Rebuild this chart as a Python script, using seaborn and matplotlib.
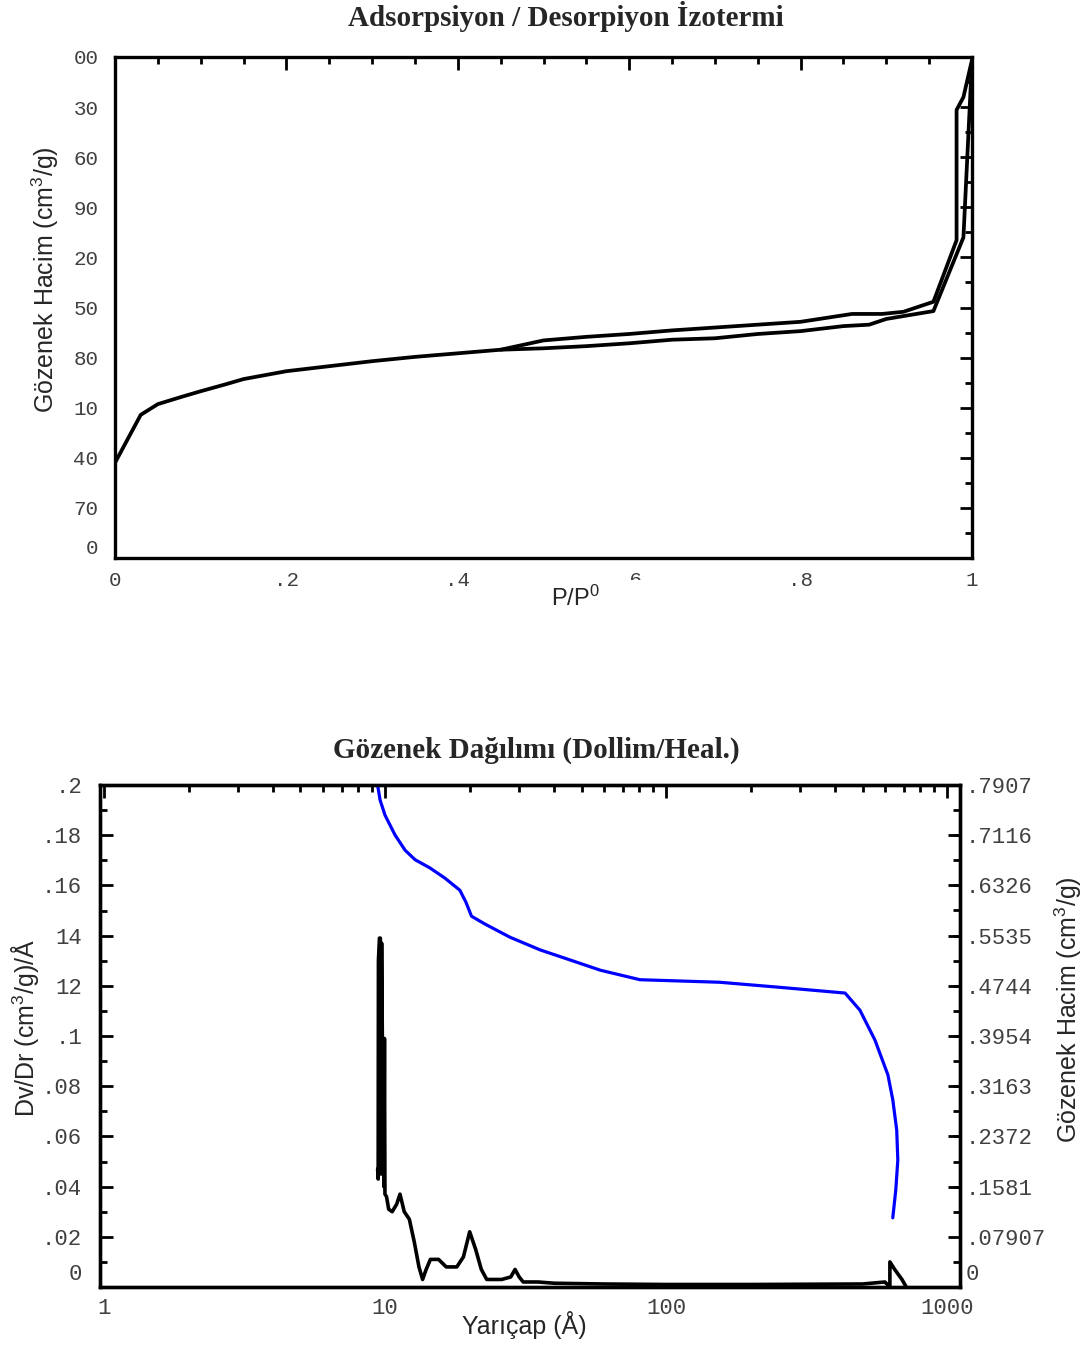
import numpy as np
import pandas as pd
import matplotlib
matplotlib.use('Agg')
import matplotlib.pyplot as plt
import matplotlib.transforms as mtransforms
import seaborn as sns
from matplotlib.ticker import MultipleLocator, FixedLocator, FixedFormatter, LogLocator, NullFormatter
from matplotlib.patches import Rectangle

# --- data ---
# adsorption branch (P/P0, volume)
ads_p = [0, 0.03, 0.05, 0.08, 0.1, 0.13, 0.15, 0.2, 0.25, 0.3, 0.35, 0.4, 0.45, 0.5,
         0.55, 0.6, 0.65, 0.7, 0.75, 0.8, 0.85, 0.88, 0.9, 0.955, 0.99, 1.0]
ads_v = [133, 200, 215, 226, 233, 243, 250, 261, 268, 275, 281, 286, 291, 293,
         296, 300, 305, 307, 313, 317, 324, 326, 334, 345, 448, 696]
# desorption branch (from high pressure back down)
des_p = [1.0, 0.99, 0.982, 0.982, 0.955, 0.92, 0.895, 0.86, 0.8, 0.75, 0.7, 0.65,
         0.6, 0.55, 0.5, 0.45]
des_v = [696, 644, 626, 444, 358, 344, 341, 341, 330, 326, 322, 318,
         313, 309, 304, 291]

iso_yticks = [0, 70, 140, 210, 280, 350, 420, 490, 560, 630, 700]
iso_ylabels = ['0', '70', '40', '10', '80', '50', '20', '90', '60', '30', '00']
iso_xticks = [0, 0.2, 0.4, 0.6, 0.8, 1.0]
iso_xlabels = ['0', '.2', '.4', '.6', '.8', '1']

# pore distribution: Dv/Dr vs radius (the narrow spike near 10 A is traced up and down)
dvdr_r = [9.41, 9.45, 9.47, 9.55, 9.62, 9.66, 9.72, 9.78, 9.85, 9.9, 9.95, 9.99, 10.12,
          10.3, 10.6, 11.0, 11.3, 11.7, 12.2, 12.7, 13.2, 13.6, 14.0, 14.5, 15.5,
          16.5, 18.0, 19.0, 20.0, 21.0, 22.0, 23.0, 26.0, 28.0, 29.0, 30.0, 31.0,
          35.0, 40.0, 60.0, 100.0, 200.0, 500.0, 600.0, 625.0, 625.0, 650.0, 690.0,
          715.0]
dvdr_v = [0.047, 0.043, 0.130, 0.139, 0.139, 0.045, 0.137, 0.099, 0.099, 0.040, 0.099,
          0.037, 0.036, 0.031, 0.030, 0.033, 0.037, 0.030, 0.027, 0.018, 0.008, 0.003,
          0.007, 0.011, 0.011, 0.008, 0.008, 0.012, 0.022, 0.015, 0.007, 0.003, 0.003,
          0.004, 0.007, 0.004, 0.002, 0.002, 0.0015, 0.0012, 0.001, 0.001, 0.0012,
          0.002, 0.0, 0.010, 0.007, 0.003, 0.0]
# cumulative pore volume vs radius
cum_r = [9.37, 9.6, 10.0, 10.85, 11.78, 12.79, 14.45, 16.33, 18.45, 19.4, 20.3, 22.6,
         27.8, 35.6, 45.6, 58.3, 80.7, 155, 254, 433, 489, 553, 615, 640, 661, 667,
         656, 640]
cum_v = [0.795, 0.767, 0.743, 0.712, 0.688, 0.673, 0.660, 0.644, 0.625, 0.606, 0.584,
         0.572, 0.551, 0.531, 0.515, 0.499, 0.484, 0.480, 0.472, 0.463, 0.436, 0.389,
         0.334, 0.295, 0.247, 0.200, 0.153, 0.109]

dv_yticks = [0, 0.02, 0.04, 0.06, 0.08, 0.1, 0.12, 0.14, 0.16, 0.18, 0.2]
dv_ylabels = ['0', '.02', '.04', '.06', '.08', '.1', '12', '14', '.16', '.18', '.2']
cum_yticks = [0, 0.07907, 0.1581, 0.2372, 0.3163, 0.3954, 0.4744, 0.5535, 0.6326,
              0.7116, 0.7907]
cum_ylabels = ['0', '.07907', '.1581', '.2372', '.3163', '.3954', '.4744', '.5535',
               '.6326', '.7116', '.7907']

ads = pd.DataFrame({'p': ads_p, 'v': ads_v})
des = pd.DataFrame({'p': des_p, 'v': des_v})
dvdr = pd.DataFrame({'r': dvdr_r, 'v': dvdr_v})
cum = pd.DataFrame({'r': cum_r, 'v': cum_v})

sns.set_style('white')
plt.rcParams['font.family'] = ['Liberation Sans', 'DejaVu Sans']
plt.rcParams['mathtext.fontset'] = 'custom'
plt.rcParams['mathtext.rm'] = 'Liberation Sans'

W, H = 1092, 1346
fig = plt.figure(figsize=(W / 100, H / 100), dpi=100)
fig.patch.set_facecolor('white')


def box(l, t, r, b):
    return [l / W, 1 - b / H, (r - l) / W, (b - t) / H]


def style_labels(labels, size):
    for lab in labels:
        lab.set_fontproperties('Liberation Mono')
        lab.set_fontsize(size)
        lab.set_color('#404040')


def lift_zero(label, pts):
    # the "0" labels sit a little above their tick in the reference
    label.set_transform(label.get_transform() +
                        mtransforms.ScaledTranslation(0, pts / 72, fig.dpi_scale_trans))


# ---------- top: isotherm ----------
ax1 = fig.add_axes(box(115, 57, 972, 558))
sns.lineplot(data=ads, x='p', y='v', ax=ax1, color='black', lw=2.7,
             sort=False, estimator=None)
sns.lineplot(data=des, x='p', y='v', ax=ax1, color='black', lw=2.7,
             sort=False, estimator=None)
ax1.set_xlim(0, 1.0)
ax1.set_ylim(0, 700)
ax1.set_xlabel('')
ax1.set_ylabel('')
ax1.xaxis.set_major_locator(FixedLocator(iso_xticks))
ax1.xaxis.set_major_formatter(FixedFormatter(iso_xlabels))
ax1.xaxis.set_minor_locator(MultipleLocator(0.05))
ax1.yaxis.set_major_locator(FixedLocator(iso_yticks))
ax1.yaxis.set_major_formatter(FixedFormatter(iso_ylabels))
ax1.yaxis.set_minor_locator(MultipleLocator(35))
ax1.tick_params(which='both', direction='in', top=True, right=True, width=2, color='black')
ax1.tick_params(which='major', length=9)
ax1.tick_params(which='minor', length=5)
ax1.tick_params(axis='y', pad=12)
ax1.tick_params(axis='x', pad=9)
style_labels(ax1.get_xticklabels() + ax1.get_yticklabels(), 15)
lift_zero(ax1.get_yticklabels()[0], 8.5)
for s in ax1.spines.values():
    s.set_linewidth(2.4)
    s.set_color('black')

fig.text(566 / W, 1 - 17 / H, 'Adsorpsiyon / Desorpiyon İzotermi', ha='center', va='center',
         family='Liberation Serif', weight='bold', fontsize=21)
fig.text(45 / W, 1 - 280 / H, 'Gözenek Hacim (cm$\\mathregular{^3}$/g)', rotation=90,
         ha='center', va='center', fontsize=18)
# white patch partly hiding the ".6" label, as in the reference
fig.patches.append(Rectangle((530 / W, 1 - 618 / H), 118 / W, 38 / H,
                             transform=fig.transFigure, facecolor='white',
                             edgecolor='none', zorder=2))
fig.text(575 / W, 1 - 598 / H, 'P/P$\\mathregular{^0}$', ha='center', va='center',
         fontsize=17, zorder=3)

# ---------- bottom: pore distribution ----------
ax2 = fig.add_axes(box(100, 785, 960, 1287))
ax3 = ax2.twinx()
sns.lineplot(data=dvdr, x='r', y='v', ax=ax2, color='black', lw=2.6,
             sort=False, estimator=None)
sns.lineplot(data=cum, x='r', y='v', ax=ax3, color='#0000ff', lw=2.3,
             sort=False, estimator=None)
ax2.set_xscale('log')
ax2.set_xlim(0.968, 1110)
ax2.set_ylim(0, 0.2)
ax3.set_ylim(0, 0.7907)
for a in (ax2, ax3):
    a.set_xlabel('')
    a.set_ylabel('')
ax2.xaxis.set_major_locator(FixedLocator([1, 10, 100, 1000]))
ax2.xaxis.set_major_formatter(FixedFormatter(['1', '10', '100', '1000']))
ax2.xaxis.set_minor_locator(LogLocator(base=10, subs=np.arange(2, 10)))
ax2.xaxis.set_minor_formatter(NullFormatter())
ax2.yaxis.set_major_locator(FixedLocator(dv_yticks))
ax2.yaxis.set_major_formatter(FixedFormatter(dv_ylabels))
ax2.yaxis.set_minor_locator(MultipleLocator(0.01))
ax3.yaxis.set_major_locator(FixedLocator(cum_yticks))
ax3.yaxis.set_major_formatter(FixedFormatter(cum_ylabels))
ax3.yaxis.set_minor_locator(MultipleLocator(0.7907 / 20))
ax2.tick_params(which='both', direction='in', top=True, right=False, width=2, color='black')
ax3.tick_params(which='both', direction='in', right=True, width=2, color='black')
for a in (ax2, ax3):
    a.tick_params(which='major', length=9)
    a.tick_params(which='minor', length=5)
ax2.tick_params(axis='y', pad=13)
ax2.tick_params(axis='x', pad=8)
ax3.tick_params(axis='y', pad=4)
style_labels(ax2.get_xticklabels() + ax2.get_yticklabels() + ax3.get_yticklabels(), 16)
lift_zero(ax2.get_yticklabels()[0], 11)
lift_zero(ax3.get_yticklabels()[0], 11)
for a in (ax2, ax3):
    for s in a.spines.values():
        s.set_linewidth(2.4)
        s.set_color('black')

fig.text(536 / W, 1 - 750 / H, 'Gözenek Dağılımı (Dollim/Heal.)', ha='center', va='center',
         family='Liberation Serif', weight='bold', fontsize=21)
fig.text(25 / W, 1 - 1028 / H, 'Dv/Dr (cm$\\mathregular{^3}$/g)/Å', rotation=90,
         ha='center', va='center', fontsize=18)
fig.text(1068 / W, 1 - 1010 / H, 'Gözenek Hacim (cm$\\mathregular{^3}$/g)', rotation=90,
         ha='center', va='center', fontsize=18)
fig.text(524 / W, 1 - 1325 / H, 'Yarıçap (Å)', ha='center', va='center', fontsize=18)

fig.savefig('out.png', dpi=100, facecolor='white')
